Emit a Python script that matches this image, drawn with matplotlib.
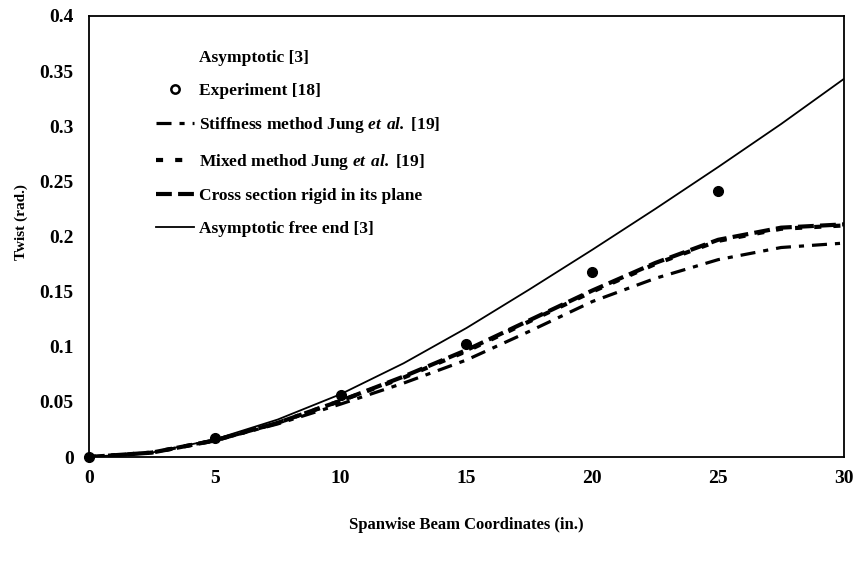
import numpy as np
import matplotlib.pyplot as plt
from matplotlib.lines import Line2D

plt.rcParams['font.family'] = ['Liberation Serif', 'DejaVu Serif']
plt.rcParams['font.weight'] = 'bold'
plt.rcParams['mathtext.fontset'] = 'custom'
plt.rcParams['mathtext.rm'] = 'Liberation Serif:bold'
plt.rcParams['mathtext.bf'] = 'Liberation Serif:bold:italic'

# spanwise positions (in.)
span = [0, 2.5, 5, 7.5, 10, 12.5, 15, 17.5, 20, 22.5, 25, 27.5, 30]

# twist (rad.)
free_end = [0, 0.004, 0.016, 0.034, 0.057, 0.085, 0.117, 0.152, 0.188, 0.225, 0.263, 0.302, 0.343]
rigid_section = [0, 0.004, 0.015, 0.031, 0.051, 0.073, 0.097, 0.124, 0.151, 0.176, 0.197, 0.208, 0.211]
mixed_jung = [0, 0.004, 0.015, 0.031, 0.051, 0.072, 0.096, 0.123, 0.150, 0.175, 0.196, 0.207, 0.210]
stiffness_jung = [0, 0.004, 0.015, 0.030, 0.048, 0.067, 0.088, 0.114, 0.141, 0.162, 0.179, 0.190, 0.194]

exp_x = [0, 5, 10, 15, 20, 25]
exp_twist = [0, 0.017, 0.056, 0.1025, 0.168, 0.241]

# line styles (dash patterns in units of line width)
stiff_style = dict(color='black', lw=2.3, dashes=(4.7, 2.5, 1.6, 2.5))
mixed_style = dict(color='black', lw=3.0, dashes=(1.7, 2.9))
rigid_style = dict(color='black', lw=3.0, dashes=(3.8, 1.5))
free_style = dict(color='black', lw=1.3)

fig = plt.figure(figsize=(8.58, 5.64), dpi=100)
ax = fig.add_axes([0.1037, 0.1897, 0.88, 0.782])

ax.plot(span, stiffness_jung, **stiff_style)
ax.plot(span, mixed_jung, **mixed_style)
ax.plot(span, rigid_section, **rigid_style)
ax.plot(span, free_end, **free_style)
ax.plot(exp_x, exp_twist, 'o', color='black', ms=7, clip_on=False)

ax.set_xlim(0, 30)
ax.set_ylim(0, 0.4)
ax.set_xticks([0, 5, 10, 15, 20, 25, 30])
ax.set_yticks([0, 0.05, 0.1, 0.15, 0.2, 0.25, 0.3, 0.35, 0.4])
ax.set_yticklabels(['0', '0.05', '0.1', '0.15', '0.2', '0.25', '0.3', '0.35', '0.4'])
ax.tick_params(length=0, labelsize=14)
ax.tick_params(axis='x', pad=9)
ax.tick_params(axis='y', pad=11)
for s in ax.spines.values():
    s.set_linewidth(1.3)

ax.set_xlabel('Spanwise Beam Coordinates (in.)', fontsize=12, fontweight='bold')
ax.set_ylabel('Twist (rad.)', fontsize=11, fontweight='bold')
ax.xaxis.set_label_coords(0.5, -0.135)
ax.yaxis.set_label_coords(-0.081, 0.533)

# legend entries
handles = [
    Line2D([], [], color='none'),
    Line2D([], [], marker='o', color='black', mfc='white', mew=1.8, ms=6, ls='none'),
    Line2D([], [], **stiff_style),
    Line2D([], [], **mixed_style),
    Line2D([], [], **rigid_style),
    Line2D([], [], **free_style),
]
labels = ['Asymptotic [3]', 'Experiment [18]',
          'Stiffness method Jung $\\mathbf{et\\ al.}\\,$[19]',
          'Mixed method Jung $\\mathbf{et\\ al.}\\,$[19]',
          'Cross section rigid in its plane',
          'Asymptotic free end [3]']
ax.legend(handles, labels, loc='upper left', bbox_to_anchor=(0.079, 0.939),
          frameon=False, fontsize=12.5, handlelength=2.2, handletextpad=0.3,
          labelspacing=0.95, borderaxespad=0)

fig.savefig('out.png', dpi=100)
